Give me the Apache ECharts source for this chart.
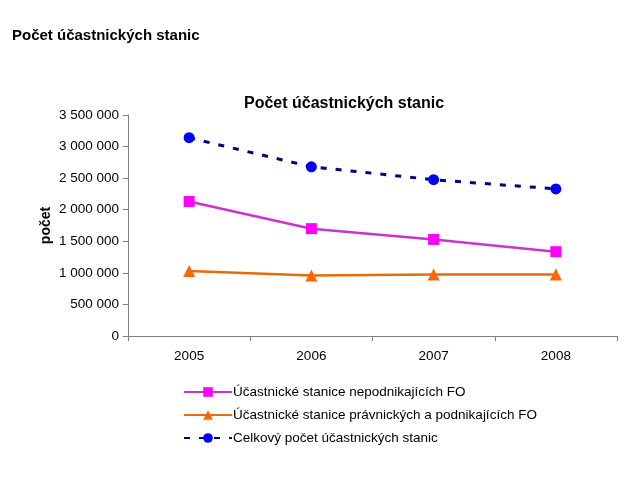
<!DOCTYPE html>
<html><head><meta charset="utf-8">
<script src="https://cdn.jsdelivr.net/npm/echarts@6/dist/echarts.min.js"></script>
<style>html,body{margin:0;padding:0;background:#fff}#c{width:640px;height:480px}</style>
</head><body><div id="c"></div>
<script>
const categories = ['2005', '2006', '2007', '2008'];
const nepodnikajici = [2130000, 1700000, 1530000, 1335000];
const pravnicke = [1030000, 960000, 975000, 975000];
const celkem = [3140000, 2680000, 2475000, 2330000];
const seriesNames = ['Účastnické stanice nepodnikajících FO', 'Účastnické stanice právnických a podnikajících FO', 'Celkový počet účastnických stanic'];

const fmt = v => String(v).replace(/\B(?=(\d{3})+(?!\d))/g, ' ');
const font = 'Liberation Sans, Arial, sans-serif';
const chart = echarts.init(document.getElementById('c'));
chart.setOption({
  animation: false,
  textStyle: { fontFamily: font },
  title: [
    { text: 'Počet účastnických stanic', left: 12, top: 28, padding: 0, textStyle: { fontSize: 15, fontWeight: 'bold', color: '#000', fontFamily: font } },
    { text: 'Počet účastnických stanic', left: 344, textAlign: 'center', top: 96, padding: 0, textStyle: { fontSize: 16, fontWeight: 'bold', color: '#000', fontFamily: font } }
  ],
  grid: { left: 128, right: 23, top: 115, bottom: 144 },
  legend: {
    orient: 'vertical', left: 183, top: 385, padding: 0, itemGap: 9, itemWidth: 48, itemHeight: 12,
    textStyle: { fontSize: 13.5, color: '#000', fontFamily: font, padding: [0, 0, 0, -4] },
    data: seriesNames
  },
  xAxis: {
    type: 'category', data: categories, boundaryGap: true,
    axisLine: { lineStyle: { color: '#808080', width: 1 } },
    axisTick: { show: true, length: 5, lineStyle: { color: '#808080' } },
    axisLabel: { color: '#000', fontSize: 13.5, margin: 13, fontFamily: font }
  },
  yAxis: {
    type: 'value', min: 0, max: 3500000, interval: 500000,
    name: 'počet', nameLocation: 'middle', nameGap: 75, nameRotate: 90, nameMoveOverlap: false,
    nameTextStyle: { fontSize: 14, fontWeight: 'bold', color: '#000', fontFamily: font },
    axisLine: { show: true, lineStyle: { color: '#808080', width: 1 } },
    axisTick: { show: true, length: 5, lineStyle: { color: '#808080' } },
    splitLine: { show: false },
    axisLabel: { color: '#000', fontSize: 13.5, margin: 9, formatter: fmt, fontFamily: font }
  },
  series: [
    { name: seriesNames[0], type: 'line', data: nepodnikajici, symbol: 'rect', symbolSize: 11,
      itemStyle: { color: '#FF00FF' }, lineStyle: { color: '#CC33CC', width: 2.5 } },
    { name: seriesNames[1], type: 'line', data: pravnicke, symbol: 'triangle', symbolSize: 12,
      itemStyle: { color: '#FF6600' }, lineStyle: { color: '#E46C0A', width: 2.5 } },
    { name: seriesNames[2], type: 'line', data: celkem, symbol: 'circle', symbolSize: 11,
      itemStyle: { color: '#0000FF' }, lineStyle: { color: '#000080', width: 3, type: [6, 9] } }
  ]
});
</script></body></html>
